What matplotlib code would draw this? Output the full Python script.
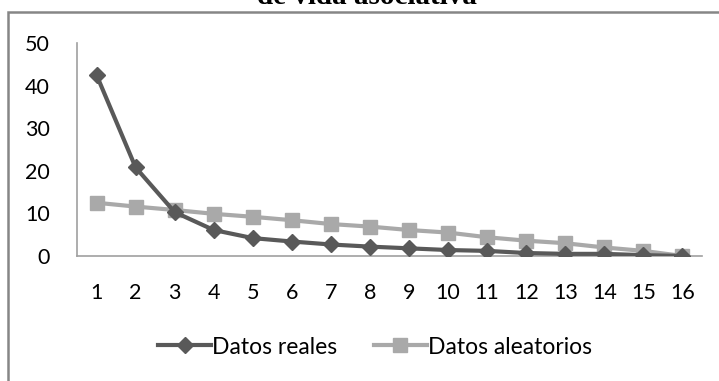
# scree plot: datos reales vs datos aleatorios

import matplotlib.pyplot as plt
from matplotlib.patches import Rectangle

componentes = list(range(1, 17))
datos_reales = [42.5, 20.8, 10.3, 6.1, 4.2, 3.4, 2.7, 2.2, 1.8, 1.4, 1.2, 0.7, 0.5, 0.5, 0.2, 0.0]
datos_aleatorios = [12.5, 11.6, 10.8, 9.9, 9.2, 8.4, 7.5, 6.9, 6.1, 5.5, 4.4, 3.6, 3.0, 2.0, 1.2, 0.0]
titulo = "de vida asociativa"

plt.rcParams['font.family'] = ['Lato', 'DejaVu Sans']

W, H = 719, 381
fig = plt.figure(figsize=(W / 100, H / 100), dpi=100)

# outer chart frame (right and bottom edges fall outside the picture)
fig.patches.append(Rectangle((8 / W, -0.1), 1.2, (H - 12) / H + 0.1,
                             transform=fig.transFigure, fill=False,
                             edgecolor='#868686', linewidth=1.8))

# title, mostly cut off at the top (as in the original)
fig.text(367 / W, 1 - 4.5 / H, titulo, ha='center', va='baseline',
         fontsize=21, fontweight='bold', family='Liberation Serif')

ax = fig.add_axes([77 / W, 1 - 256 / H, (702 - 77) / W, (256 - 43) / H])
ax.plot(componentes, datos_reales, color='#595959', linewidth=3,
        marker='D', markersize=8, label='Datos reales', zorder=3)
ax.plot(componentes, datos_aleatorios, color='#A9A9A9', linewidth=3,
        marker='s', markersize=10, label='Datos aleatorios', zorder=2)

ax.set_xlim(0.5, 16.5)
ax.set_ylim(0, 50)
ax.set_yticks([0, 10, 20, 30, 40, 50])
ax.set_xticks(componentes)
ax.tick_params(length=0, labelsize=15.5, colors='#000000')
ax.tick_params(axis='y', pad=19.5)
ax.tick_params(axis='x', pad=19.5)
for s in ['top', 'right']:
    ax.spines[s].set_visible(False)
for s in ['left', 'bottom']:
    ax.spines[s].set_color('#A0A0A0')
    ax.spines[s].set_linewidth(1.2)
ax.spines['left'].set_zorder(0)

leg = fig.legend(loc='center', bbox_to_anchor=(375 / W, 1 - 347 / H),
                 ncol=2, frameon=False, fontsize=16.5, handlelength=2.3,
                 handletextpad=0.05, columnspacing=1.6)

fig.savefig("out.png", dpi=100)
